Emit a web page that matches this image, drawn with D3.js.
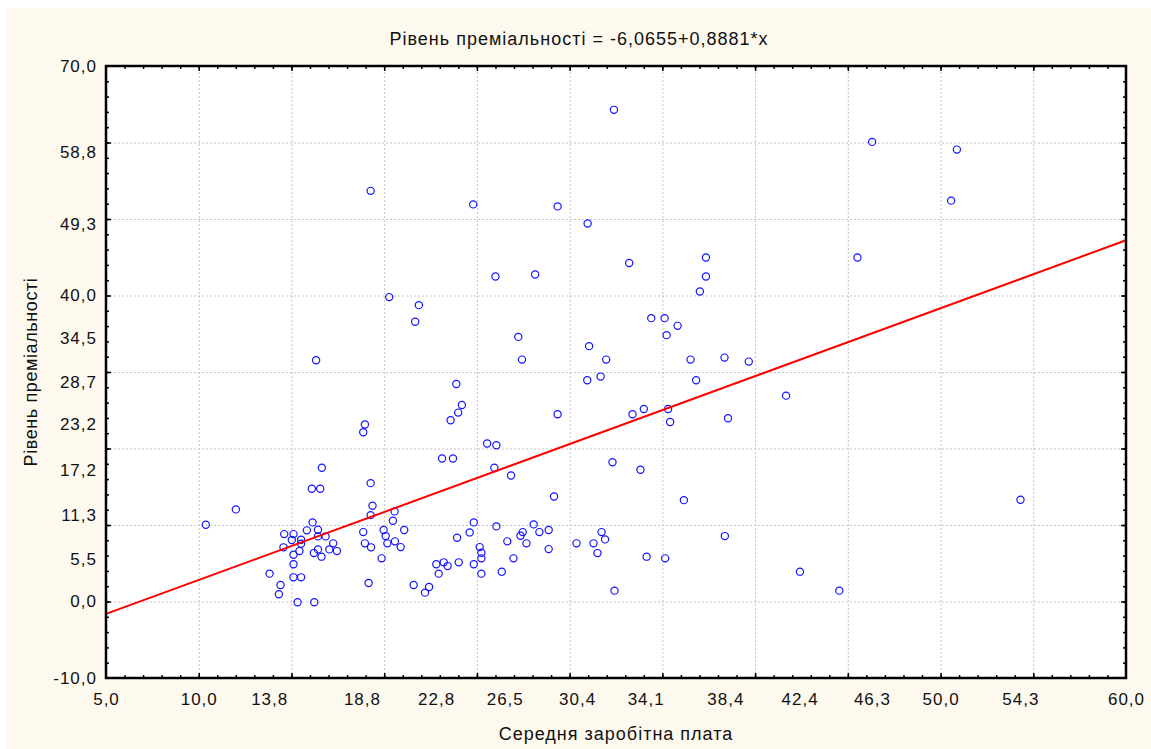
<!DOCTYPE html>
<html>
	<head>
		<meta charset="utf-8" />
		<script type="text/javascript" src="https://cdnjs.cloudflare.com/ajax/libs/d3/7.8.5/d3.min.js"></script>
		<style type="text/css">

html, body {
  width: 100%;
  height: 100%;
  margin: 0;
  padding: 0;
  background: #ffffff;
}

#chart svg {
  display: block;
  font-family: "Liberation Sans", Arial, sans-serif;
}

.grid line {
  stroke: #c4c4c4;
  stroke-width: 1;
  stroke-dasharray: 2,2;
}

.point {
  fill: none;
  stroke: #1414ff;
  stroke-width: 1.2px;
}

.fit {
  stroke: #ff0000;
  stroke-width: 2;
  fill: none;
}
		</style>
	</head>

	<body>
		<div id="chart"></div>
		<script type="text/javascript">

// середня заробітна плата (x) та рівень преміальності (y)
var salary = [
	10.38, 12.00, 16.33, 18.96, 18.87, 19.27,
	16.64, 16.10, 16.55, 19.27, 19.37, 19.27, 20.56, 20.47, 16.14, 15.83,
	16.43, 14.61, 15.11, 15.02, 15.52, 15.52, 16.43, 16.84, 14.57, 15.43,
	15.11, 16.21, 16.43, 16.62, 17.25, 17.04, 17.45, 15.11, 13.82, 15.11,
	15.52, 14.41, 14.32, 15.33, 16.23, 18.87, 18.96, 19.29, 19.16, 19.86,
	19.97, 20.08, 20.17, 20.58, 20.89, 21.08, 21.59, 22.20, 22.42,
	25.55, 26.05, 23.12, 23.71, 25.94, 26.84, 29.16, 32.31, 24.83, 24.61,
	23.93, 26.05, 28.06, 28.37, 28.87, 27.47, 27.35, 26.64, 27.67, 25.15,
	25.24, 25.24, 28.87, 24.02, 24.83, 22.81, 23.21, 23.42, 22.94, 25.24,
	26.34, 26.97, 30.37, 31.29, 31.50, 31.72, 31.91, 32.42,
	33.82, 36.16, 34.15, 35.15, 38.37, 42.42, 44.54,
	32.39, 24.80, 29.35, 30.97, 33.21, 26.00, 28.14, 20.27, 21.87, 21.67,
	27.23, 27.43, 31.05, 31.97, 30.95, 31.67, 23.89, 24.19, 23.99, 23.58,
	29.35, 33.39,
	46.31, 37.35, 37.35, 37.02, 45.52, 34.40, 35.12, 35.82, 35.23, 36.52,
	38.35, 39.66, 36.82, 41.67, 34.00, 35.31, 35.42, 38.54,
	50.88, 50.57, 54.31
];

var bonus = [
	10.04, 12.04, 31.53, 23.13, 22.13, 53.68,
	17.48, 14.74, 14.74, 15.47, 12.52, 11.29, 11.78, 10.56, 10.34, 9.30,
	9.38, 8.81, 8.81, 8.03, 8.08, 7.56, 8.51, 8.51, 7.08, 6.59,
	6.12, 6.33, 6.81, 5.86, 7.60, 6.81, 6.59, 4.86, 3.64, 3.16,
	3.16, 2.16, 0.94, -0.10, -0.10, 9.07, 7.60, 7.08, 2.42, 5.64,
	9.34, 8.55, 7.60, 7.86, 7.11, 9.34, 2.16, 1.16, 1.89,
	20.65, 20.43, 18.69, 18.69, 17.48, 16.48, 13.73, 18.21, 10.34, 9.03,
	8.34, 9.82, 10.08, 9.07, 9.34, 9.07, 8.60, 7.86, 7.60, 7.11,
	6.38, 5.64, 6.85, 5.12, 4.86, 4.86, 5.12, 4.63, 3.64, 3.64,
	3.90, 5.64, 7.60, 7.60, 6.33, 9.07, 8.12, 1.42,
	17.22, 13.25, 5.86, 5.64, 8.55, 3.90, 1.42,
	64.27, 51.91, 51.65, 49.42, 44.24, 42.49, 42.75, 39.79, 38.74, 36.56,
	34.59, 31.62, 33.38, 31.62, 28.93, 29.40, 28.44, 25.69, 24.69, 23.69,
	24.48, 24.48,
	60.08, 44.97, 42.49, 40.52, 44.97, 37.04, 37.04, 36.03, 34.82, 31.62,
	31.88, 31.36, 28.93, 26.91, 25.17, 25.17, 23.47, 23.95,
	59.07, 52.40, 13.30
];

// tick labels as Statistica prints them
var xTickLabels = [5.0, 10.0, 13.8, 18.8, 22.8, 26.5, 30.4, 34.1, 38.4, 42.4, 46.3, 50.0, 54.3, 60.0];
var yTickLabels = [-10.0, 0.0, 5.5, 11.3, 17.2, 23.2, 28.7, 34.5, 40.0, 49.3, 58.8, 70.0];

var xDomain = [5, 60];
var yDomain = [-10, 70];

// regression: Рівень преміальності = -6,0655+0,8881*x
var intercept = -6.0655;
var slope = 0.8881;

var title = 'Рівень преміальності = -6,0655+0,8881*x';
var xTitle = 'Середня заробітна плата';
var yTitle = 'Рівень преміальності';

function fmt(v) {
	return v.toFixed(1).replace('.', ',');
}

function drawChart() {
	var width = 1151, height = 749;
	var left = 106, right = 1126, top = 66, bottom = 678;

	var svg = d3.select('#chart').append('svg')
		.attr('width', width)
		.attr('height', height);

	// panel background
	svg.append('rect')
		.attr('x', 7).attr('y', 8)
		.attr('width', width - 7).attr('height', height - 8)
		.attr('fill', '#fdf9ef');

	svg.append('rect')
		.attr('x', left).attr('y', top)
		.attr('width', right - left).attr('height', bottom - top)
		.attr('fill', '#ffffff');

	var x = d3.scaleLinear().domain(xDomain).range([left, right]);
	var y = d3.scaleLinear().domain(yDomain).range([bottom, top]);

	// dashed grid
	svg.append('g')
		.attr('class', 'grid')
		.attr('transform', 'translate(0,' + bottom + ')')
		.call(d3.axisBottom(x).tickValues(d3.range(10, 60, 5)).tickSize(-(bottom - top)).tickFormat(''))
		.call(function(g) { g.select('.domain').remove(); });

	svg.append('g')
		.attr('class', 'grid')
		.attr('transform', 'translate(' + left + ',0)')
		.call(d3.axisLeft(y).tickValues(d3.range(0, 70, 10)).tickSize(-(right - left)).tickFormat(''))
		.call(function(g) { g.select('.domain').remove(); });

	// points
	var points = salary.map(function(d, i) { return { x: d, y: bonus[i] }; });

	svg.append('g').selectAll('circle')
		.data(points)
		.enter().append('circle')
		.attr('class', 'point')
		.attr('cx', function(d) { return x(d.x); })
		.attr('cy', function(d) { return y(d.y); })
		.attr('r', 3.6);

	// fitted line
	svg.append('line')
		.attr('class', 'fit')
		.attr('x1', x(xDomain[0]))
		.attr('y1', y(intercept + slope * xDomain[0]))
		.attr('x2', x(xDomain[1]))
		.attr('y2', y(intercept + slope * xDomain[1]));

	// minor and major inward ticks on all four sides
	function ticks(axis, tr, values, size) {
		svg.append('g')
			.attr('transform', tr)
			.call(axis.tickValues(values).tickSize(size).tickFormat(''))
			.call(function(g) {
				g.select('.domain').remove();
				g.selectAll('line').attr('stroke', '#000').attr('stroke-width', 1.5);
			});
	}
	var xMinor = d3.range(6, 60, 1), xMajor = d3.range(10, 60, 5);
	var yMinor = d3.range(-8, 70, 2), yMajor = d3.range(0, 70, 10);
	ticks(d3.axisBottom(x), 'translate(0,' + bottom + ')', xMinor, -3);
	ticks(d3.axisBottom(x), 'translate(0,' + bottom + ')', xMajor, -5);
	ticks(d3.axisTop(x), 'translate(0,' + top + ')', xMinor, -3);
	ticks(d3.axisTop(x), 'translate(0,' + top + ')', xMajor, -5);
	ticks(d3.axisLeft(y), 'translate(' + left + ',0)', yMinor, -3);
	ticks(d3.axisLeft(y), 'translate(' + left + ',0)', yMajor, -5);
	ticks(d3.axisRight(y), 'translate(' + right + ',0)', yMinor, -3);
	ticks(d3.axisRight(y), 'translate(' + right + ',0)', yMajor, -5);

	// frame
	svg.append('rect')
		.attr('x', left).attr('y', top)
		.attr('width', right - left).attr('height', bottom - top)
		.attr('fill', 'none')
		.attr('stroke', '#000')
		.attr('stroke-width', 2.5);

	// tick labels
	var xAxis = svg.append('g')
		.attr('transform', 'translate(0,' + bottom + ')')
		.call(d3.axisBottom(x).tickValues(xTickLabels).tickSize(0).tickPadding(15).tickFormat(fmt));
	xAxis.select('.domain').remove();

	var yAxis = svg.append('g')
		.attr('transform', 'translate(' + left + ',0)')
		.call(d3.axisLeft(y).tickValues(yTickLabels).tickSize(0).tickPadding(9).tickFormat(fmt));
	yAxis.select('.domain').remove();

	svg.selectAll('.tick text')
		.attr('font-size', 17)
		.attr('letter-spacing', 1)
		.attr('font-family', '"Liberation Sans", Arial, sans-serif')
		.attr('fill', '#111');

	// titles
	svg.append('text')
		.attr('x', 579).attr('y', 45)
		.attr('text-anchor', 'middle')
		.attr('font-size', 18)
		.attr('letter-spacing', 1)
		.attr('fill', '#111')
		.text(title);

	svg.append('text')
		.attr('x', (left + right) / 2).attr('y', 740)
		.attr('text-anchor', 'middle')
		.attr('font-size', 18)
		.attr('letter-spacing', 1)
		.attr('fill', '#111')
		.text(xTitle);

	svg.append('text')
		.attr('transform', 'translate(37,' + (top + bottom) / 2 + ') rotate(-90)')
		.attr('text-anchor', 'middle')
		.attr('font-size', 18)
		.attr('letter-spacing', 0.6)
		.attr('fill', '#111')
		.text(yTitle);
}

drawChart();

    </script>
  </body>
</html>
